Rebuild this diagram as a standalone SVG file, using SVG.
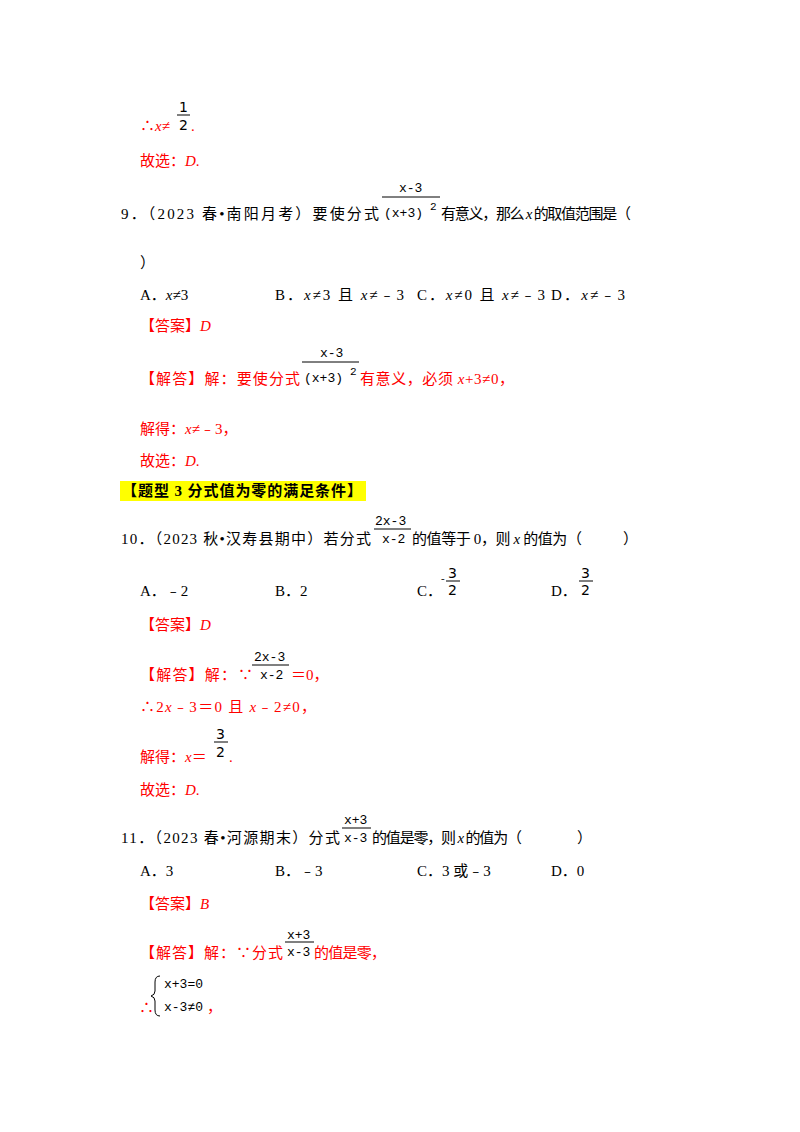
<svg xmlns="http://www.w3.org/2000/svg" width="800" height="1132" viewBox="0 0 800 1132">
<style>
text{font-family:"Liberation Serif","Noto Sans CJK SC",serif;font-size:15px;fill:#000}
.r{fill:#f00}
.i{font-style:italic}
.m{font-family:"Liberation Mono","DejaVu Sans Mono",monospace;font-size:13px}
.d{font-family:"DejaVu Sans",sans-serif;font-size:14px}
.b{font-weight:bold}
line{stroke:#000;stroke-width:1}
</style>
<rect width="800" height="1132" fill="#fff"/>
<g id="prev">
<text x="140" y="131" class="r">∴<tspan class="i">x</tspan>≠</text>
<text x="179" y="112" class="d">1</text>
<line x1="177" y1="115" x2="190" y2="115"/>
<text x="179" y="130" class="d">2</text>
<text x="191" y="131" class="r">.</text>
<text x="140" y="166" class="r">故选：<tspan class="i">D</tspan>.</text>
</g>
<g id="q9">
<text x="121" y="219" textLength="258">9．（2023 春•南阳月考）要使分式</text>
<text x="399" y="192" class="m">x-3</text>
<line x1="382" y1="197" x2="440" y2="197"/>
<text x="384" y="217" class="m">(x+3)</text><text x="430" y="210" class="m" style="font-size:11px">2</text>
<text x="441" y="219" textLength="190">有意义，那么 <tspan class="i">x</tspan> 的取值范围是（</text>
<text x="140" y="268">）</text>
<text x="140" y="300">A．<tspan class="i">x</tspan>≠3</text>
<text x="275" y="300" textLength="129">B．<tspan class="i">x</tspan>≠3 且 <tspan class="i">x</tspan>≠﹣3</text>
<text x="417" y="300" textLength="128">C．<tspan class="i">x</tspan>≠0 且 <tspan class="i">x</tspan>≠﹣3</text>
<text x="551" y="300" textLength="74">D．<tspan class="i">x</tspan>≠﹣3</text>
<text x="140" y="331" class="r">【答案】<tspan class="i">D</tspan></text>
<text x="140" y="384" class="r" textLength="160">【解答】解：要使分式</text>
<text x="320" y="357" class="m">x-3</text>
<line x1="302" y1="362" x2="359" y2="362"/>
<text x="304" y="382" class="m">(x+3)</text><text x="350" y="375" class="m" style="font-size:11px">2</text>
<text x="360" y="384" class="r" textLength="154">有意义，必须 <tspan class="i">x</tspan>+3≠0，</text>
<text x="140" y="434" class="r">解得：<tspan class="i">x</tspan>≠﹣3，</text>
<text x="140" y="466" class="r">故选：<tspan class="i">D</tspan>.</text>
</g>
<g id="heading">
<rect x="120" y="481" width="246" height="20" fill="#ff0"/>
<text x="122" y="496" class="b" textLength="240">【题型 3 分式值为零的满足条件】</text>
</g>
<g id="q10">
<text x="121" y="544" textLength="250">10．（2023 秋•汉寿县期中）若分式</text>
<text x="375" y="525" class="m">2x-3</text>
<line x1="374" y1="529" x2="411" y2="529"/>
<text x="382" y="543" class="m">x-2</text>
<text x="412" y="544" textLength="170">的值等于 0，则 <tspan class="i">x</tspan> 的值为（</text>
<text x="623" y="544">）</text>
<text x="140" y="596">A．﹣2</text>
<text x="275" y="596">B．2</text>
<text x="417" y="596">C．</text>
<text x="441" y="582" style="font-size:11px">-</text>
<text x="448" y="578" class="d">3</text>
<line x1="446" y1="581" x2="460" y2="581"/>
<text x="448" y="595" class="d">2</text>
<text x="551" y="596">D．</text>
<text x="581" y="578" class="d">3</text>
<line x1="579" y1="581" x2="593" y2="581"/>
<text x="581" y="595" class="d">2</text>
<text x="140" y="630" class="r">【答案】<tspan class="i">D</tspan></text>
<text x="140" y="680" class="r" textLength="96">【解答】解：</text>
<text x="238" y="680" class="r">∵</text>
<text x="254" y="661" class="m">2x-3</text>
<line x1="252" y1="665" x2="289" y2="665"/>
<text x="260" y="679" class="m">x-2</text>
<text x="291" y="680" class="r">＝0，</text>
<text x="140" y="712" class="r" textLength="176">∴2<tspan class="i">x</tspan>﹣3＝0 且 <tspan class="i">x</tspan>﹣2≠0，</text>
<text x="140" y="762" class="r">解得：<tspan class="i">x</tspan>＝</text>
<text x="216" y="739" class="d">3</text>
<line x1="214" y1="742" x2="228" y2="742"/>
<text x="216" y="757" class="d">2</text>
<text x="229" y="762" class="r">.</text>
<text x="140" y="795" class="r">故选：<tspan class="i">D</tspan>.</text>
</g>
<g id="q11">
<text x="121" y="843" textLength="219">11．（2023 春•河源期末）分式</text>
<text x="344" y="824" class="m">x+3</text>
<line x1="342" y1="828" x2="371" y2="828"/>
<text x="344" y="842" class="m">x-3</text>
<text x="372" y="843" textLength="150">的值是零，则 <tspan class="i">x</tspan> 的值为（</text>
<text x="577" y="843">）</text>
<text x="140" y="876">A．3</text>
<text x="275" y="876">B．﹣3</text>
<text x="417" y="876">C．3 或﹣3</text>
<text x="551" y="876">D．0</text>
<text x="140" y="909" class="r">【答案】<tspan class="i">B</tspan></text>
<text x="140" y="958" class="r" textLength="143">【解答】解：∵分式</text>
<text x="287" y="939" class="m">x+3</text>
<line x1="285" y1="942" x2="314" y2="942"/>
<text x="287" y="956" class="m">x-3</text>
<text x="314" y="958" class="r" textLength="72">的值是零，</text>
<text x="139" y="1013" class="r">∴</text>
<path d="M160 976 Q155 976 155 982 L155 991 Q155 995 151 996 Q155 997 155 1001 L155 1010 Q155 1016 160 1016" fill="none" stroke="#000" stroke-width="1"/>
<text x="164" y="988" class="m">x+3=0</text>
<text x="164" y="1011" class="m">x-3≠0</text>
<text x="207" y="1012" class="r">，</text>
</g>
</svg>
